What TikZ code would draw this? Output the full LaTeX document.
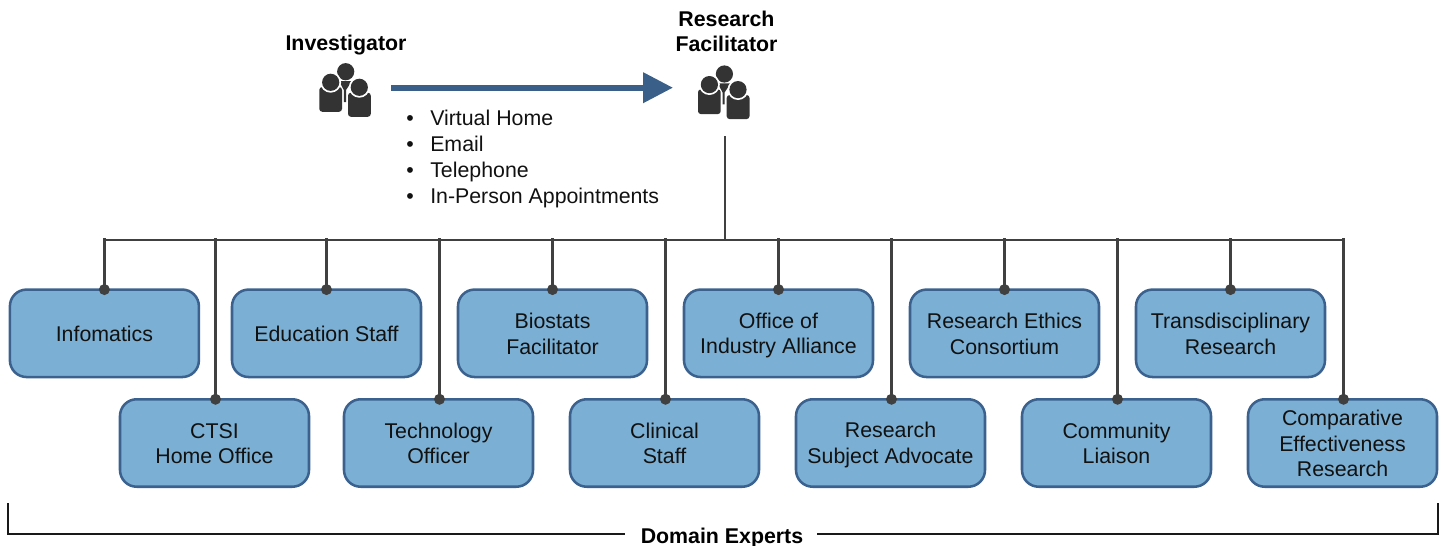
\documentclass[tikz,border=0pt]{standalone}
\usepackage{fontspec}
\setmainfont{Liberation Sans}
\usetikzlibrary{arrows.meta}
\definecolor{boxfill}{HTML}{7BAFD3}
\definecolor{boxline}{HTML}{3B628E}
\definecolor{arrowblue}{HTML}{3A6089}
\definecolor{wire}{HTML}{404040}
\definecolor{icondark}{HTML}{333333}
\definecolor{inktext}{HTML}{111111}
\tikzset{
  x=0.75pt,y=-0.75pt,
  expert/.style={draw=boxline,fill=boxfill,line width=1.9pt,rounded corners=12.5pt,
    minimum width=141.75pt,minimum height=65.6pt,align=center,outer sep=0pt,inner sep=0pt,
    text=inktext,font=\fontsize{16}{19}\selectfont},
  rolelabel/.style={align=center,inner sep=0pt,text=black,font=\fontsize{16}{19}\selectfont\bfseries},
  buswire/.style={draw=wire,line width=1.5pt},
  dropwire/.style={draw=wire,line width=2.2pt},
  contact/.style={fill=wire,draw=none},
  bracketline/.style={draw=black!90,line width=1.3pt},
  flowarrow/.style={draw=arrowblue,line width=4.6pt,-{Triangle[length=22.5pt,width=22pt]}},
}
\newcommand{\peopleicon}[2]{%
  \begin{scope}[shift={(#1,#2)}]
    \fill[icondark] (345.7,71.7) circle[radius=8.6];
    \fill[icondark] (339,81)--(352,81)--(346,90)--(346,102)--(343.8,102)--(343.8,90)--cycle;
    \fill[icondark,rounded corners=2.2pt] (319.3,87)--(342,87)--(342,111.8)--(319.3,111.8)--cycle;
    \fill[icondark,rounded corners=2.2pt] (348,92.7)--(370.8,92.7)--(370.8,116.8)--(348,116.8)--cycle;
    \fill[white] (330.7,82.3) circle[radius=10.4];
    \fill[white] (359.3,87.3) circle[radius=10.4];
    \fill[icondark] (330.7,82.3) circle[radius=8.6];
    \fill[icondark] (359.3,87.3) circle[radius=8.6];
  \end{scope}}
\newcommand{\st}{\rule[-2.2pt]{0pt}{16.8pt}}
\begin{document}
\begin{tikzpicture}
\useasboundingbox (0,0) rectangle (1446,546);
% icons and role labels
\peopleicon{0}{0}
\peopleicon{378.7}{2.3}
\node[rolelabel] (inv) at (346,45) {Investigator};
\node[rolelabel] (rf) at (726.5,31.5) {Research\\Facilitator};
% arrow
\coordinate (arrowstart) at (391,87.7);
\coordinate (arrowend) at (673,87.7);
\draw[flowarrow] (arrowstart) -- (arrowend);
% bullet list
\node[anchor=north west,align=left,inner sep=0pt,text=inktext,font=\fontsize{16}{19.4}\selectfont] (channels) at (406,110.2)
 {\makebox[18pt][l]{•}Virtual Home\\
  \makebox[18pt][l]{•}Email\\
  \makebox[18pt][l]{•}Telephone\\
  \makebox[18pt][l]{•}In-Person Appointments};
% expert boxes
\node[expert] (b1) at (104.4,333.3) {Infomatics\st};
\node[expert] (b2) at (326.5,333.3) {Education Staff\st};
\node[expert] (b3) at (552.5,333.3) {Biostats\st\\Facilitator\st};
\node[expert] (b4) at (778.5,333.3) {Office of\st\\Industry Alliance\st};
\node[expert] (b5) at (1004.5,333.3) {Research Ethics\st\\Consortium\st};
\node[expert] (b6) at (1230.5,333.3) {Transdisciplinary\st\\Research\st};
\node[expert] (c1) at (214.5,443) {CTSI\st\\Home Office\st};
\node[expert] (c2) at (438.5,443) {Technology\st\\Officer\st};
\node[expert] (c3) at (664.5,443) {Clinical\st\\Staff\st};
\node[expert] (c4) at (890.5,443) {Research\st\\Subject Advocate\st};
\node[expert] (c5) at (1116.5,443) {Community\st\\Liaison\st};
\node[expert] (c6) at (1342.5,443) {Comparative\st\\Effectiveness\st\\Research\st};
% bus
\coordinate (trunktop) at (724.5,136);
\coordinate (trunkbot) at (724.5,240);
\coordinate (busl) at (103.5,240);
\coordinate (busr) at (1345,240);
\draw[buswire] (trunktop) -- (trunkbot);
\draw[buswire] (busl) -- (busr);
\foreach \n/\d in {b1/0,b2/0,b3/0,b4/0,b5/0,b6/0,c1/0.75,c2/0.75,c3/0.75,c4/0.75,c5/0.75,c6/0.75}{
  \draw[dropwire] ([xshift=\d pt]\n.north) -- ([xshift=\d pt]\n.north |- 0,238);
  \fill[contact] ([xshift=\d pt]\n.north) circle[radius=5.5];
}
% bracket
\node[rolelabel] (domain) at (722,538) {Domain Experts};
\coordinate (bl) at (8,503);
\coordinate (br) at (1438,503);
\coordinate (bml) at (625,534);
\coordinate (bmr) at (817,534);
\draw[bracketline] (bl) |- (bml);
\draw[bracketline] (br) |- (bmr);
\end{tikzpicture}
\end{document}
